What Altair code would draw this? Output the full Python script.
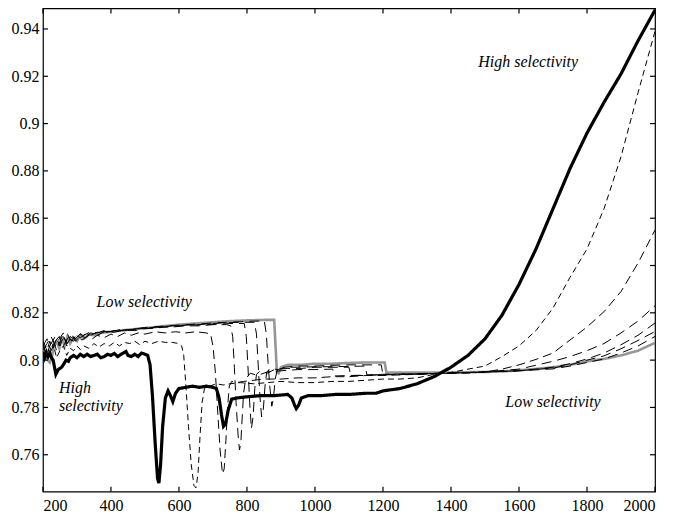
import altair as alt
import pandas as pd

# ---------------- data ----------------
BLACK_X = [200, 205, 210, 215, 220, 225, 230, 238, 245, 255, 262, 268, 275, 280, 290, 300, 310, 320, 330, 340, 350,
           360, 370, 380, 390, 400, 410, 420, 430, 444, 450, 460, 470, 480, 490, 500, 508,
           515, 522, 530, 537, 541, 546, 552, 560, 568, 575, 582, 590, 600, 620, 640, 660, 680, 700, 710, 718, 725,
           731, 737, 745, 755, 770, 800, 840, 880, 920, 932, 940, 945, 952, 960, 980, 1020, 1060, 1100, 1150, 1180,
           1200, 1250, 1300, 1350, 1400, 1450, 1500, 1550, 1600, 1650, 1700, 1750, 1800, 1850, 1900, 1950, 2000]
BLACK_Y = [0.8035, 0.801, 0.803, 0.8015, 0.803, 0.801, 0.800, 0.794, 0.796, 0.797, 0.7985, 0.800, 0.7995, 0.801,
           0.802, 0.801, 0.8025, 0.8015, 0.8025, 0.8015, 0.802, 0.8025, 0.801, 0.8015, 0.8025, 0.802, 0.8028, 0.8015,
           0.8025, 0.8037, 0.802, 0.8015, 0.8025, 0.8015, 0.803, 0.8025, 0.802,
           0.798, 0.785, 0.765, 0.750, 0.748, 0.756, 0.772, 0.784, 0.787, 0.785, 0.7825, 0.786, 0.788, 0.7885, 0.789,
           0.7885, 0.789, 0.7885, 0.788, 0.784, 0.777, 0.772, 0.773, 0.779, 0.7835, 0.784, 0.7845, 0.785, 0.785,
           0.7855, 0.784, 0.781, 0.7795, 0.781, 0.784, 0.785, 0.785, 0.7855, 0.7855, 0.786, 0.786,
           0.787, 0.788, 0.790, 0.793, 0.797, 0.802, 0.809, 0.819, 0.832, 0.847, 0.864, 0.881, 0.896, 0.909, 0.921,
           0.935, 0.948]

D1_X = [200, 210, 220, 230, 240, 250, 260, 270, 280, 290, 300, 310, 320, 335, 350, 365, 380, 395, 410, 425, 440,
        455, 470, 485, 500, 520, 540, 560, 580, 600, 608, 614, 620, 628, 636, 644, 650, 656, 662, 668, 675, 690,
        710, 730, 750, 780, 820, 860, 900, 950, 1000, 1050, 1100, 1150, 1200, 1250, 1300, 1350, 1400, 1450, 1500,
        1550, 1600, 1650, 1700, 1750, 1800, 1850, 1900, 1950, 2000]
D1_Y = [0.804, 0.806, 0.803, 0.807, 0.801, 0.804, 0.806, 0.802, 0.805, 0.804, 0.806, 0.8045, 0.806, 0.805, 0.807,
        0.8055, 0.807, 0.806, 0.8075, 0.806, 0.8075, 0.807, 0.808, 0.8065, 0.808, 0.807, 0.808, 0.8075, 0.8075,
        0.807, 0.806, 0.802, 0.790, 0.772, 0.756, 0.747, 0.746, 0.752, 0.768, 0.782, 0.788, 0.789,
        0.790, 0.7895, 0.790, 0.7905, 0.790, 0.7905, 0.791, 0.7905, 0.7905, 0.791, 0.791, 0.7915, 0.792, 0.792,
        0.7925, 0.794, 0.7948, 0.7962, 0.7975, 0.8015, 0.806, 0.8125, 0.822, 0.835, 0.847, 0.864, 0.886, 0.913,
        0.939]

D2_X = [200, 210, 220, 230, 240, 250, 260, 270, 280, 290, 300, 315, 330, 345, 360, 380, 400, 420, 440, 460, 480,
        500, 530, 560, 590, 620, 650, 680, 693, 700, 707, 714, 721, 728, 733, 738, 743, 748, 755, 770, 790, 820,
        850, 900, 950, 1000, 1050, 1100, 1150, 1200, 1300, 1400, 1450, 1500, 1550, 1600, 1650, 1700, 1750, 1800,
        1850, 1900, 1950, 2000]
D2_Y = [0.806, 0.803, 0.808, 0.805, 0.809, 0.806, 0.810, 0.807, 0.809, 0.808, 0.810, 0.8085, 0.810, 0.809, 0.8105,
        0.8095, 0.811, 0.810, 0.8115, 0.8105, 0.8115, 0.811, 0.812, 0.8115, 0.812, 0.8115, 0.812, 0.8115, 0.811,
        0.806, 0.795, 0.778, 0.762, 0.752, 0.754, 0.766, 0.780, 0.789, 0.791, 0.7905, 0.791, 0.7915, 0.792, 0.792,
        0.7925, 0.7925, 0.793, 0.793, 0.7935, 0.7935, 0.794, 0.7945, 0.7945, 0.795, 0.7962, 0.798, 0.8003, 0.803,
        0.8085, 0.814, 0.8205, 0.829, 0.841, 0.855]

D3_X = [200, 210, 220, 230, 240, 250, 260, 270, 280, 290, 300, 320, 340, 360, 380, 400, 430, 460, 490, 520, 550,
        580, 620, 660, 700, 740, 752, 758, 763, 768, 774, 778, 782, 786, 790, 796, 810, 830, 860, 900, 950, 1000,
        1052, 1057, 1100, 1200, 1300, 1400, 1500, 1600, 1700, 1750, 1800, 1850, 1900, 1950, 2000]
D3_Y = [0.807, 0.802, 0.806, 0.809, 0.804, 0.808, 0.811, 0.806, 0.810, 0.809, 0.811, 0.8105, 0.812, 0.8115, 0.8125,
        0.812, 0.813, 0.8128, 0.8135, 0.8135, 0.814, 0.814, 0.8145, 0.8145, 0.815, 0.815, 0.8145, 0.810, 0.797,
        0.782, 0.768, 0.762, 0.765, 0.776, 0.786, 0.792, 0.7945, 0.7935, 0.795, 0.7955, 0.796, 0.796, 0.7962,
        0.7933, 0.7935, 0.7938, 0.794, 0.7945, 0.795, 0.7962, 0.7995, 0.8015, 0.804, 0.807, 0.8115, 0.8165, 0.823]

D4_X = [200, 212, 224, 236, 248, 260, 272, 284, 296, 310, 325, 340, 360, 380, 410, 440, 470, 500, 530, 560, 600,
        640, 680, 720, 760, 792, 798, 803, 808, 813, 818, 823, 828, 840, 860, 880, 920, 960, 1000, 1100, 1105,
        1150, 1200, 1300, 1400, 1500, 1600, 1700, 1750, 1800, 1850, 1900, 1950, 2000]
D4_Y = [0.806, 0.809, 0.804, 0.808, 0.810, 0.806, 0.809, 0.811, 0.808, 0.8105, 0.8095, 0.811, 0.8105, 0.812,
        0.8118, 0.8128, 0.8125, 0.8133, 0.8135, 0.814, 0.8145, 0.8148, 0.815, 0.8153, 0.8155, 0.8155, 0.810, 0.797,
        0.782, 0.771, 0.776, 0.788, 0.794, 0.7955, 0.7945, 0.796, 0.7965, 0.7965, 0.797, 0.797, 0.7935,
        0.7935, 0.794, 0.794, 0.7945, 0.795, 0.7955, 0.797, 0.7985, 0.8005, 0.803, 0.8065, 0.8105, 0.8157]

D5_X = [200, 212, 224, 236, 248, 260, 272, 284, 296, 310, 325, 340, 360, 380, 410, 440, 470, 500, 540, 580, 620,
        660, 700, 740, 780, 822, 828, 833, 838, 843, 848, 853, 858, 870, 890, 920, 960, 1000, 1050, 1148, 1153,
        1200, 1300, 1400, 1500, 1600, 1700, 1750, 1800, 1850, 1900, 1950, 2000]
D5_Y = [0.8045, 0.807, 0.810, 0.806, 0.809, 0.8115, 0.807, 0.810, 0.809, 0.8112, 0.810, 0.8115, 0.811, 0.8122,
        0.812, 0.8128, 0.8132, 0.8135, 0.814, 0.8145, 0.8148, 0.815, 0.8155, 0.8158, 0.816, 0.816, 0.811, 0.798,
        0.785, 0.776, 0.779, 0.789, 0.795, 0.7965, 0.796, 0.797, 0.797, 0.7972, 0.7972, 0.7975, 0.7937,
        0.794, 0.7942, 0.7945, 0.795, 0.7955, 0.7967, 0.798, 0.800, 0.8018, 0.8048, 0.8083, 0.8121]

D6_X = [200, 212, 224, 236, 248, 260, 272, 284, 296, 310, 325, 340, 360, 380, 410, 440, 470, 500, 540, 580, 620,
        660, 700, 740, 780, 820, 851, 857, 862, 867, 873, 878, 883, 890, 910, 950, 1000, 1050, 1100, 1195, 1200,
        1300, 1400, 1500, 1600, 1700, 1750, 1800, 1850, 1900, 1950, 2000]
D6_Y = [0.808, 0.804, 0.807, 0.810, 0.807, 0.809, 0.811, 0.808, 0.8105, 0.8095, 0.811, 0.8105, 0.8118, 0.8115,
        0.8125, 0.8125, 0.8132, 0.8138, 0.8142, 0.8146, 0.815, 0.8153, 0.8157, 0.816, 0.8162, 0.8165, 0.8165,
        0.811, 0.799, 0.789, 0.7805, 0.784, 0.792, 0.7965, 0.797, 0.7975, 0.7975, 0.7978, 0.798, 0.798, 0.7938,
        0.7943, 0.7946, 0.795, 0.7955, 0.7963, 0.7975, 0.799, 0.8005, 0.803, 0.806, 0.810]

GRAY_X = [200, 207, 214, 220, 226, 232, 240, 248, 256, 264, 272, 280, 290, 300, 310, 320, 335, 350, 370, 400, 430,
          460, 500, 550, 600, 650, 700, 750, 800, 850, 880, 884, 888, 893, 900, 920, 960, 1000, 1050, 1100, 1150,
          1205, 1210, 1250, 1300, 1400, 1500, 1550, 1600, 1650, 1700, 1750, 1800, 1850, 1900, 1950, 2000]
GRAY_Y = [0.805, 0.8035, 0.800, 0.799, 0.801, 0.806, 0.808, 0.805, 0.809, 0.806, 0.810, 0.807, 0.8095, 0.808,
          0.8105, 0.809, 0.8108, 0.8105, 0.8115, 0.812, 0.8125, 0.813, 0.8135, 0.8143, 0.815, 0.8155, 0.816, 0.8165,
          0.8168, 0.817, 0.817, 0.806, 0.795, 0.7945, 0.797, 0.798, 0.798, 0.7985, 0.7985, 0.7988, 0.799, 0.799,
          0.7948, 0.7947, 0.7947, 0.7948, 0.795, 0.7952, 0.7957, 0.7963, 0.797, 0.798, 0.7995, 0.8005, 0.802,
          0.804, 0.8073]

X_TICKS = [200, 400, 600, 800, 1000, 1200, 1400, 1600, 1800, 2000]
Y_TICKS = [0.76, 0.78, 0.80, 0.82, 0.84, 0.86, 0.88, 0.90, 0.92, 0.94]

ANN_TEXT = ["High selectivity", "Low selectivity", "High", "selectivity", "Low selectivity"]
ANN_X = [1627, 498, 247, 247, 1700]
ANN_Y = [0.926, 0.8244, 0.7883, 0.7804, 0.7822]
ANN_ALIGN = ["center", "center", "left", "left", "center"]

# ---------------- chart ----------------
W, H = 613, 484
FONT = "Liberation Serif"

xs = alt.Scale(domain=[200, 2000], nice=False, zero=False)
ys = alt.Scale(domain=[0.7444, 0.9487], nice=False, zero=False)
x_axis = alt.Axis(values=X_TICKS, format="d", ticks=False, domain=False, grid=False, title=None,
                  labelPadding=6, labelFont=FONT, labelFontSize=16, labelColor="black")
y_axis = alt.Axis(values=Y_TICKS, format="~g", ticks=False, domain=False, grid=False, title=None,
                  labelPadding=4, labelFont=FONT, labelFontSize=16, labelColor="black")


def X(field="x"):
    return alt.X(f"{field}:Q", scale=xs, axis=x_axis)


def Y(field="y"):
    return alt.Y(f"{field}:Q", scale=ys, axis=y_axis)


series = [
    (GRAY_X, GRAY_Y, "#969696", 2.6, [1, 0]),
    (D6_X, D6_Y, "black", 1.0, [10, 6]),
    (D5_X, D5_Y, "black", 1.0, [10, 6]),
    (D4_X, D4_Y, "black", 1.0, [10, 6]),
    (D3_X, D3_Y, "black", 1.0, [10, 6]),
    (D2_X, D2_Y, "black", 1.0, [9, 5]),
    (D1_X, D1_Y, "black", 1.0, [6, 4]),
    (BLACK_X, BLACK_Y, "black", 3.2, [1, 0]),
]

layers = []
for xv, yv, col, sw, dash in series:
    df = pd.DataFrame({"x": xv, "y": yv})
    layers.append(
        alt.Chart(df).mark_line(color=col, strokeWidth=sw, strokeDash=dash, clip=True)
        .encode(x=X(), y=Y())
    )

xt = pd.DataFrame({"v": X_TICKS})
yt = pd.DataFrame({"v": Y_TICKS})
tick_style = dict(color="black", strokeWidth=1.2)
layers += [
    alt.Chart(xt).mark_rule(**tick_style).encode(x=X("v"), y=alt.value(H), y2=alt.value(H - 5)),
    alt.Chart(xt).mark_rule(**tick_style).encode(x=X("v"), y=alt.value(0), y2=alt.value(5)),
    alt.Chart(yt).mark_rule(**tick_style).encode(y=Y("v"), x=alt.value(0), x2=alt.value(5)),
    alt.Chart(yt).mark_rule(**tick_style).encode(y=Y("v"), x=alt.value(W), x2=alt.value(W - 5)),
]

for i in range(len(ANN_TEXT)):
    one = pd.DataFrame({"t": [ANN_TEXT[i]], "x": [ANN_X[i]], "y": [ANN_Y[i]]})
    layers.append(
        alt.Chart(one).mark_text(font=FONT, fontStyle="italic", fontSize=16, align=ANN_ALIGN[i],
                                 baseline="middle", color="black")
        .encode(x=X(), y=Y(), text="t:N")
    )

chart = (
    alt.layer(*layers)
    .properties(width=W, height=H, autosize=alt.AutoSizeParams(type="none"),
                padding={"left": 35, "top": 0, "right": 10, "bottom": 25}, background="white")
    .configure_view(stroke="black", strokeWidth=1.2)
)

chart.save("out.html", embed_options={"renderer": "svg", "actions": False})
